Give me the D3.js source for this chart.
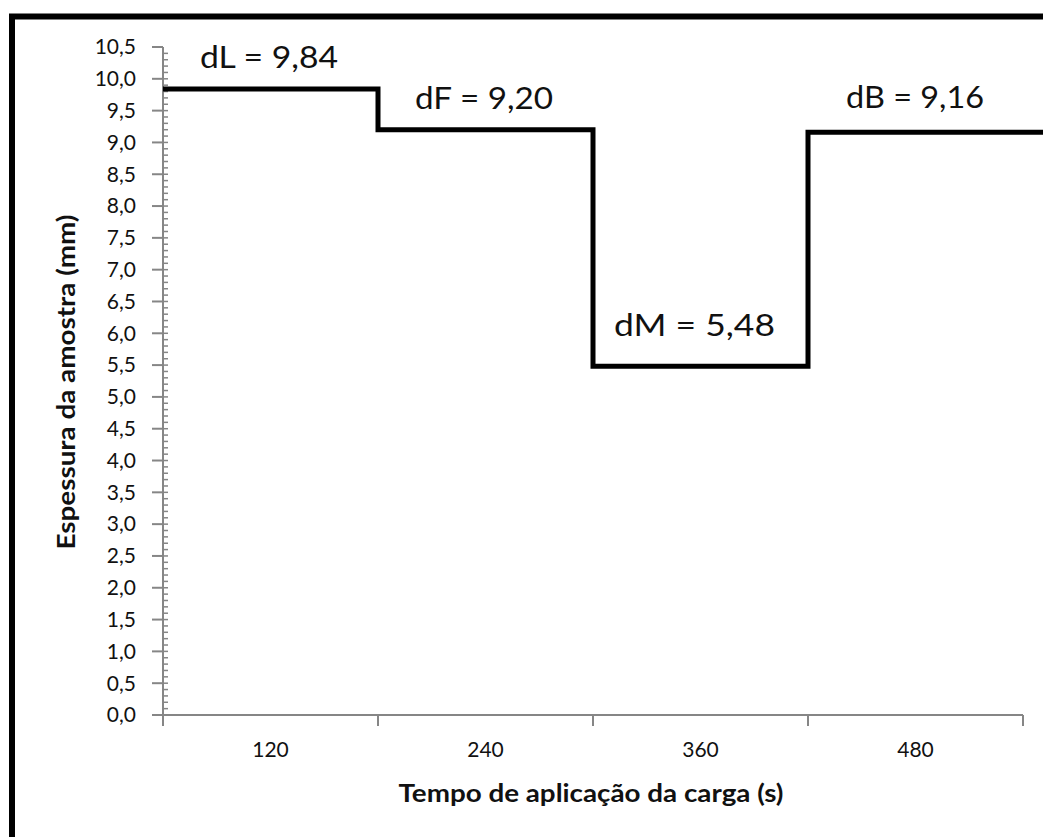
<!DOCTYPE html>
<html>
<head>
<meta charset="utf-8">
<script src="https://cdn.jsdelivr.net/npm/d3@7"></script>
<style>
  body { margin: 0; background: #fff; }
  svg { display: block; }
  text { font-family: Lato, "Open Sans", sans-serif; fill: #111; }
</style>
</head>
<body>
<div class="chart"></div>
<script>
// tempo (s) categories and thickness per stage
const categories = ['120', '240', '360', '480'];
const stages = ['dL', 'dF', 'dM', 'dB'];
const values = [9.84, 9.20, 5.48, 9.16];
const yTicks = d3.range(0, 10.51, 0.5);

const width = 1043, height = 837;

const svg = d3.select('.chart')
  .append('svg')
  .attr('width', width)
  .attr('height', height);

// outer frame (runs off the right and bottom edge)
svg.append('rect')
  .attr('x', 12).attr('y', 16.5)
  .attr('width', 1100).attr('height', 900)
  .attr('fill', 'none')
  .attr('stroke', '#000')
  .attr('stroke-width', 6);

const x = d3.scaleBand()
  .domain(categories)
  .range([163, 1023])
  .paddingInner(0).paddingOuter(0);

const y = d3.scaleLinear()
  .domain([0, 10.5])
  .range([715, 47]);

const fmt = d => d3.format('.1f')(d).replace('.', ',');
const axisColor = '#868686';

// y axis: major ticks outside, minor ticks inside
const yAxis = svg.append('g').attr('transform', 'translate(163,0)');
yAxis.append('g')
  .selectAll('line')
  .data(d3.range(0, 105).map(i => i / 10))
  .join('line')
  .attr('x1', 0).attr('x2', 5)
  .attr('y1', d => y(d)).attr('y2', d => y(d))
  .attr('stroke', axisColor).attr('stroke-width', 1.5);
yAxis.append('g')
  .selectAll('line')
  .data(yTicks)
  .join('line')
  .attr('x1', -11).attr('x2', 0)
  .attr('y1', d => y(d)).attr('y2', d => y(d))
  .attr('stroke', axisColor).attr('stroke-width', 2);
yAxis.append('line')
  .attr('x1', 0).attr('x2', 0)
  .attr('y1', y(10.5)).attr('y2', y(0))
  .attr('stroke', axisColor).attr('stroke-width', 2);
yAxis.append('g')
  .selectAll('text')
  .data(yTicks)
  .join('text')
  .attr('x', -27)
  .attr('y', d => y(d))
  .attr('dy', '0.35em')
  .attr('text-anchor', 'end')
  .style('font-size', '21px')
  .text(fmt);

// x axis: category ticks between bands
const xAxis = svg.append('g').attr('transform', 'translate(0,715)');
xAxis.append('line')
  .attr('x1', x.range()[0]).attr('x2', x.range()[1])
  .attr('stroke', axisColor).attr('stroke-width', 2);
xAxis.selectAll('line.tick')
  .data(categories.map(c => x(c)).concat([x.range()[1]]))
  .join('line')
  .attr('class', 'tick')
  .attr('x1', d => d).attr('x2', d => d)
  .attr('y1', 0).attr('y2', 11)
  .attr('stroke', axisColor).attr('stroke-width', 2);
xAxis.selectAll('text')
  .data(categories)
  .join('text')
  .attr('x', d => x(d) + x.bandwidth() / 2)
  .attr('y', 42)
  .attr('text-anchor', 'middle')
  .style('font-size', '21px')
  .text(d => d);

// axis titles
svg.append('text')
  .attr('x', 591).attr('y', 802)
  .attr('text-anchor', 'middle')
  .attr('textLength', 385).attr('lengthAdjust', 'spacingAndGlyphs')
  .style('font-size', '24px').style('font-weight', 'bold')
  .text('Tempo de aplicação da carga (s)');
svg.append('text')
  .attr('transform', 'translate(75,382) rotate(-90)')
  .attr('text-anchor', 'middle')
  .attr('textLength', 335).attr('lengthAdjust', 'spacingAndGlyphs')
  .style('font-size', '25px').style('font-weight', 'bold')
  .text('Espessura da amostra (mm)');

// step line
const pts = [];
categories.forEach((c, i) => {
  const x0 = x(c);
  const x1 = i === categories.length - 1 ? width + 5 : x(c) + x.bandwidth();
  pts.push([x0, y(values[i])], [x1, y(values[i])]);
});
svg.append('path')
  .datum(pts)
  .attr('d', d3.line())
  .attr('fill', 'none')
  .attr('stroke', '#000')
  .attr('stroke-width', 5)
  .attr('stroke-linejoin', 'miter');

// value labels
const labelOffset = [[37, -21], [37, -21], [21, -30], [38, -24]];
svg.append('g')
  .selectAll('text')
  .data(categories)
  .join('text')
  .attr('x', (c, i) => x(c) + labelOffset[i][0])
  .attr('y', (c, i) => y(values[i]) + labelOffset[i][1])
  .attr('textLength', (c, i) => i === 2 ? 161 : 138)
  .attr('lengthAdjust', 'spacingAndGlyphs')
  .style('font-size', '30px')
  .text((c, i) => stages[i] + ' = ' + values[i].toFixed(2).replace('.', ','));
</script>
</body>
</html>
